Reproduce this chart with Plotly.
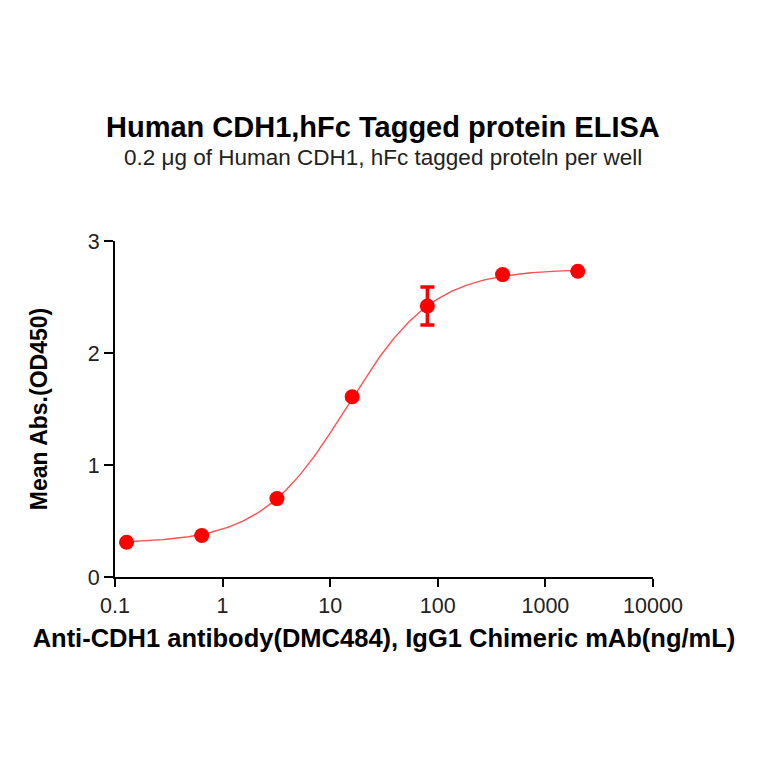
import numpy as np
import plotly.graph_objects as go

# Data
concentration = [0.128, 0.64, 3.2, 16, 80, 400, 2000]   # ng/mL
mean_abs = [0.31, 0.37, 0.70, 1.61, 2.42, 2.70, 2.73]   # OD450
err = [0.0, 0.0, 0.0, 0.0, 0.17, 0.0, 0.0]

# 4PL fit parameters (estimated from the drawn curve)
fit_bottom = 0.30
fit_top = 2.75
fit_ec50 = 14.4
fit_hill = 1.085

x_ticks = [0.1, 1, 10, 100, 1000, 10000]
x_tick_text = ["0.1", "1", "10", "100", "1000", "10000"]
y_ticks = [0, 1, 2, 3]

title = "Human CDH1,hFc Tagged protein ELISA"
subtitle = "0.2 \u03bcg of Human CDH1, hFc tagged proteln per well"
x_title = "Anti-CDH1 antibody(DMC484), IgG1 Chimeric mAb(ng/mL)"
y_title = "Mean Abs.(OD450)"

red = "#FF0000"
font_family = "Liberation Sans, Arial, sans-serif"

# page body has an 8px margin, so the figure is drawn 8px in from the corner
W = H = 748
ML, MT, MR, MB = 107, 233, 103, 179
plot_w = W - ML - MR
plot_h = H - MT - MB


def py(ypix):
    return (H - MB - (ypix - 8)) / plot_h


def px(xpix):
    return (xpix - 8 - ML) / plot_w


xc = np.logspace(np.log10(min(concentration)), np.log10(max(concentration)), 300)
yc = fit_bottom + (fit_top - fit_bottom) / (1 + (fit_ec50 / xc) ** fit_hill)

fig = go.Figure()
fig.add_trace(go.Scatter(x=xc, y=yc, mode="lines",
                         line=dict(color="#FF5050", width=1.4),
                         hoverinfo="skip", showlegend=False))
fig.add_trace(go.Scatter(x=concentration, y=mean_abs, mode="markers",
                         marker=dict(color=red, size=15),
                         error_y=dict(type="data", array=err, visible=True,
                                      color=red, thickness=3.5, width=7),
                         showlegend=False))

fig.update_layout(
    width=W, height=H,
    paper_bgcolor="white", plot_bgcolor="white",
    margin=dict(l=ML, r=MR, t=MT, b=MB),
    font=dict(family=font_family, color="black"),
    xaxis=dict(type="log", range=[-1, 4], tickvals=x_ticks, ticktext=x_tick_text,
               showgrid=False, zeroline=False, showline=True, linecolor="black",
               linewidth=1.8, ticks="outside", ticklen=8, tickwidth=1.8,
               tickcolor="black", tickfont=dict(size=21.5, color="#222222"),
               title=dict(text="<b>" + x_title + "</b>", font=dict(size=25.5, color="black"),
                          standoff=12)),
    yaxis=dict(range=[0, 3], tickvals=y_ticks, showgrid=False, zeroline=False,
               showline=True, linecolor="black", linewidth=1.8, ticks="outside",
               ticklen=9, tickwidth=1.8, tickcolor="black",
               tickfont=dict(size=21.5, color="#222222"),
               title=dict(text="<b>" + y_title + "</b>", font=dict(size=23, color="black"),
                          standoff=34)),
    annotations=[
        dict(text="<b>" + title + "</b>", x=px(383), y=py(127), xref="paper", yref="paper",
             showarrow=False, font=dict(size=29, color="black"), xanchor="center",
             yanchor="middle"),
        dict(text=subtitle, x=px(383), y=py(157), xref="paper", yref="paper",
             showarrow=False, font=dict(size=22.5, color="#222222"), xanchor="center",
             yanchor="middle"),
    ],
)

fig.write_html("out.html")
